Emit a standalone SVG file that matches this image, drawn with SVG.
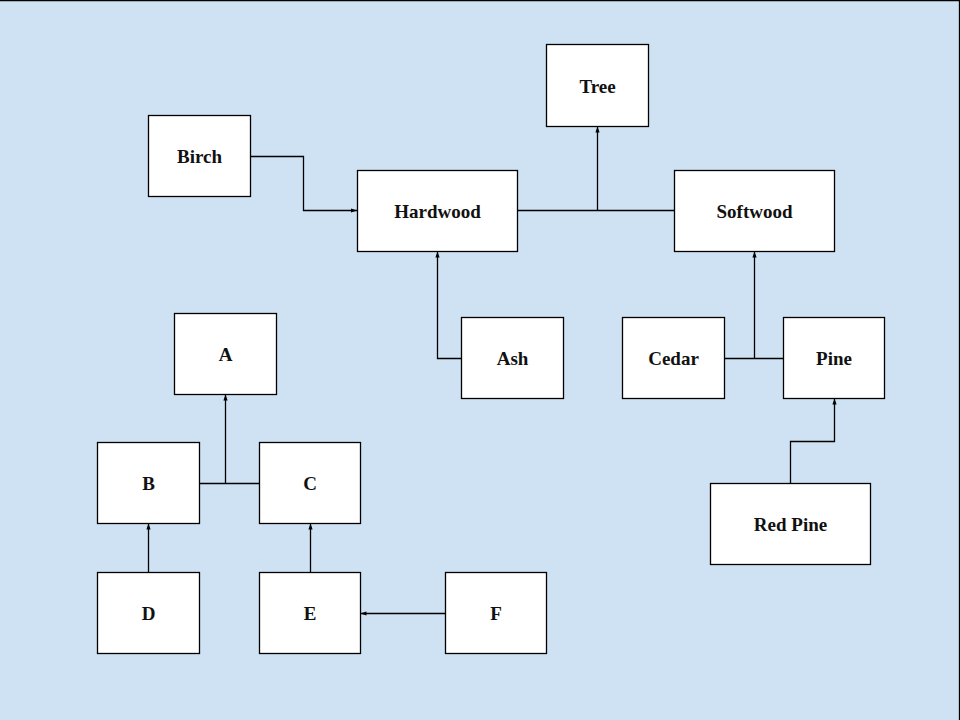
<svg xmlns="http://www.w3.org/2000/svg" width="960" height="720" viewBox="0 0 960 720">
<defs>
<style>
.node rect{fill:#ffffff;stroke:#000000;stroke-width:1.3}
.node text{font-family:"Liberation Serif","Times New Roman",serif;font-weight:bold;font-size:19px;fill:#111;text-anchor:middle}
.edges path{fill:none;stroke:#000000;stroke-width:1.3}
</style>
<marker id="arr" viewBox="0 0 10 10" refX="10" refY="5" markerWidth="6" markerHeight="6" markerUnits="userSpaceOnUse" orient="auto">
<path d="M0,1.5 L10,5 L0,8.5 Z" fill="#000"/>
</marker>
</defs>
<rect x="0" y="0" width="960" height="720" fill="#cfe2f3"/>
<line x1="0" y1="0.5" x2="960" y2="0.5" stroke="#000" stroke-width="1.3"/>
<line x1="959.5" y1="0" x2="959.5" y2="720" stroke="#000" stroke-width="1.3"/>
<g class="edges">
<path d="M250.5,156.5 H303.5 V210.5 H357" marker-end="url(#arr)"/>
<path d="M517.5,210.5 H674.5"/>
<path d="M597.5,210.5 V126.5" marker-end="url(#arr)"/>
<path d="M461.5,358.5 H437.5 V251.5" marker-end="url(#arr)"/>
<path d="M724.5,358.5 H783.5"/>
<path d="M754.5,358.5 V251.5" marker-end="url(#arr)"/>
<path d="M790.5,483.5 V441.5 H834.5 V398.5" marker-end="url(#arr)"/>
<path d="M199.5,483.5 H259.5"/>
<path d="M225.5,483.5 V394.5" marker-end="url(#arr)"/>
<path d="M148.5,572.5 V523.5" marker-end="url(#arr)"/>
<path d="M310.5,572.5 V523.5" marker-end="url(#arr)"/>
<path d="M445.5,613.5 H360.5" marker-end="url(#arr)"/>
</g>
<g id="tree" class="node"><rect x="546.5" y="44.5" width="102" height="82"/><text x="597.5" y="92.5">Tree</text></g>
<g id="birch" class="node"><rect x="148.5" y="115.5" width="102" height="81"/><text x="199.5" y="162.5">Birch</text></g>
<g id="hardwood" class="node"><rect x="357.5" y="170.5" width="160" height="81"/><text x="437.5" y="217.5">Hardwood</text></g>
<g id="softwood" class="node"><rect x="674.5" y="170.5" width="160" height="81"/><text x="754.5" y="217.5">Softwood</text></g>
<g id="ash" class="node"><rect x="461.5" y="317.5" width="102" height="81"/><text x="512.5" y="365">Ash</text></g>
<g id="cedar" class="node"><rect x="622.5" y="317.5" width="102" height="81"/><text x="673.5" y="365">Cedar</text></g>
<g id="pine" class="node"><rect x="783.5" y="317.5" width="101" height="81"/><text x="834" y="365">Pine</text></g>
<g id="redpine" class="node"><rect x="710.5" y="483.5" width="160" height="81"/><text x="790.5" y="530.5">Red Pine</text></g>
<g id="a" class="node"><rect x="174.5" y="313.5" width="102" height="81"/><text x="225.5" y="360.5">A</text></g>
<g id="b" class="node"><rect x="97.5" y="442.5" width="102" height="81"/><text x="148.5" y="490">B</text></g>
<g id="c" class="node"><rect x="259.5" y="442.5" width="101" height="81"/><text x="310" y="490">C</text></g>
<g id="d" class="node"><rect x="97.5" y="572.5" width="102" height="81"/><text x="148.5" y="620">D</text></g>
<g id="e" class="node"><rect x="259.5" y="572.5" width="101" height="81"/><text x="310" y="620">E</text></g>
<g id="f" class="node"><rect x="445.5" y="572.5" width="101" height="81"/><text x="496" y="620">F</text></g>
</svg>
